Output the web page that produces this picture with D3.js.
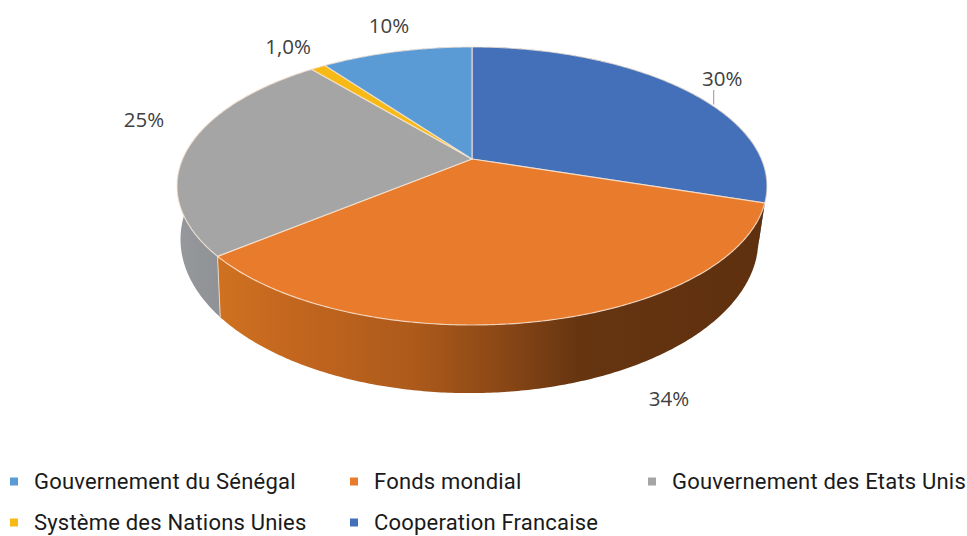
<!DOCTYPE html>
<html>
<head>
<meta charset="utf-8">
<script src="https://d3js.org/d3.v7.min.js"></script>
<style>
  html, body { margin: 0; padding: 0; background: #fff; }
  svg { display: block; }
</style>
</head>
<body>
<div id="chart"></div>
<script>
// data, legend order
var categories = ["Gouvernement du Sénégal", "Fonds mondial", "Gouvernement des Etats Unis", "Système des Nations Unies", "Cooperation Francaise"];
var values = [10, 34, 25, 1, 30];
var valueLabels = ["10%", "34%", "25%", "1,0%", "30%"];
var colors = ["#5b9bd5", "#e97c2c", "#a5a5a5", "#f6b916", "#4370b8"];
// the pie itself starts with Cooperation Francaise and runs clockwise
var sliceOrder = [4, 1, 2, 3, 0];

// label offset from the rim point at the middle of each slice
var labelOffsets = [[-7.5, -26], [130, 77], [-45, -27], [-30, -21], [40, -10]];

var width = 967, height = 536;

var svg = d3.select("#chart")
  .append("svg")
  .attr("width", width)
  .attr("height", height);

// perspective: unit circle on the table gets squeezed towards the back
var persp = 0.194;
var x = d3.scaleLinear().domain([-1, 1]).range([472 - 289.4, 472 + 289.4]);
var yTop = d3.scaleLinear().domain([-1, 1]).range([159 - 133.8, 159 + 133.8]);
var xBottom = d3.scaleLinear().domain([-1, 1]).range([472 - 286, 472 + 281]);
var yBottom = d3.scaleLinear().domain([-1, 1]).range([209.5 - 148, 209.5 + 148]);

function project(angle, sx, sy) {
  var X = Math.sin(angle), Y = -Math.cos(angle);
  var w = 1 - persp * Y;
  return [sx(X / w), sy(Y / w)];
}

function arcPoints(a0, a1, sx, sy) {
  var n = Math.max(2, Math.ceil((a1 - a0) / 0.01));
  return d3.range(n + 1).map(function (i) {
    return project(a0 + (a1 - a0) * i / n, sx, sy);
  });
}

var pie = d3.pie()
  .value(function (i) { return values[i]; })
  .sort(null);
var slices = pie(sliceOrder);

var line = d3.line();
var centre = [x(0), yTop(0)];

// side gradients run left to right across the whole pie
var defs = svg.append("defs");
var sideStops = [
  { id: "sideOrange", stops: [[0.06, "#d0721f"], [0.2, "#c2661f"], [0.4, "#ad5a1b"], [0.55, "#8a4716"], [0.68, "#663510"], [1, "#5f300f"]] },
  { id: "sideGray", stops: [[0, "#96989b"], [0.1, "#8c8f94"], [1, "#8c8f94"]] }
];
sideStops.forEach(function (g) {
  defs.append("linearGradient")
    .attr("id", g.id)
    .attr("gradientUnits", "userSpaceOnUse")
    .attr("x1", 178).attr("x2", 767)
    .attr("y1", 0).attr("y2", 0)
    .selectAll("stop")
    .data(g.stops)
    .enter()
    .append("stop")
    .attr("offset", function (d) { return d[0]; })
    .attr("stop-color", function (d) { return d[1]; });
});

function sideFill(i) {
  if (i === 1) return "url(#sideOrange)";
  if (i === 2) return "url(#sideGray)";
  return d3.color(colors[i]).darker(0.6);
}

// side walls, the ones nearest to the viewer go last
var sideOrder = slices.slice().sort(function (a, b) {
  return -Math.cos((a.startAngle + a.endAngle) / 2) - -Math.cos((b.startAngle + b.endAngle) / 2);
});

svg.append("g")
  .selectAll("path")
  .data(sideOrder)
  .enter()
  .append("path")
  .attr("fill", function (d) { return sideFill(d.data); })
  .attr("d", function (d) {
    var top = arcPoints(d.startAngle, d.endAngle, x, yTop);
    var bottom = arcPoints(d.startAngle, d.endAngle, xBottom, yBottom).reverse();
    return line(top.concat(bottom)) + "Z";
  });

// seam between orange and gray on the wall
var seam = slices[1].endAngle;
svg.append("path")
  .attr("d", line([project(seam, x, yTop), project(seam, xBottom, yBottom)]))
  .attr("stroke", "#e8d8c8")
  .attr("stroke-width", 1)
  .attr("fill", "none");

// top face
svg.append("g")
  .selectAll("path")
  .data(slices)
  .enter()
  .append("path")
  .attr("fill", function (d) { return colors[d.data]; })
  .attr("stroke", "#fbe9da")
  .attr("stroke-opacity", 0.75)
  .attr("stroke-width", 1.2)
  .attr("stroke-linejoin", "round")
  .attr("d", function (d) {
    return line([centre].concat(arcPoints(d.startAngle, d.endAngle, x, yTop))) + "Z";
  });

// value labels
var labelFont = "'Open Sans', sans-serif";
svg.append("g")
  .selectAll("text")
  .data(slices)
  .enter()
  .append("text")
  .attr("x", function (d) { return project((d.startAngle + d.endAngle) / 2, x, yTop)[0] + labelOffsets[d.data][0]; })
  .attr("y", function (d) { return project((d.startAngle + d.endAngle) / 2, x, yTop)[1] + labelOffsets[d.data][1]; })
  .attr("dy", "0.36em")
  .attr("text-anchor", "middle")
  .attr("fill", "#404040")
  .style("font-family", labelFont)
  .style("font-size", "20.5px")
  .text(function (d) { return valueLabels[d.data]; });

// leader line of the 30% label
var leadMid = project((slices[0].startAngle + slices[0].endAngle) / 2, x, yTop);
svg.append("line")
  .attr("x1", leadMid[0] + 31.5).attr("x2", leadMid[0] + 31.5)
  .attr("y1", leadMid[1] + 1.5).attr("y2", leadMid[1] + 16)
  .attr("stroke", "#a6a6a6")
  .attr("stroke-width", 1.2);

// legend
var legendCols = [10, 350, 648];
var legendRows = [481.5, 522.5];
var legend = svg.append("g")
  .selectAll("g")
  .data(categories)
  .enter()
  .append("g")
  .attr("transform", function (d, i) {
    return "translate(" + legendCols[i % 3] + "," + legendRows[Math.floor(i / 3)] + ")";
  });

legend.append("rect")
  .attr("x", 0).attr("y", -4)
  .attr("width", 8).attr("height", 8)
  .attr("fill", function (d, i) { return colors[i]; });

legend.append("text")
  .attr("x", 24)
  .attr("dy", "0.36em")
  .attr("fill", "#1a1a1a")
  .style("font-family", "Roboto, sans-serif")
  .style("font-size", "22px")
  .style("font-weight", 400)
  .style("letter-spacing", "0.2px")
  .text(function (d) { return d; });
</script>
</body>
</html>
